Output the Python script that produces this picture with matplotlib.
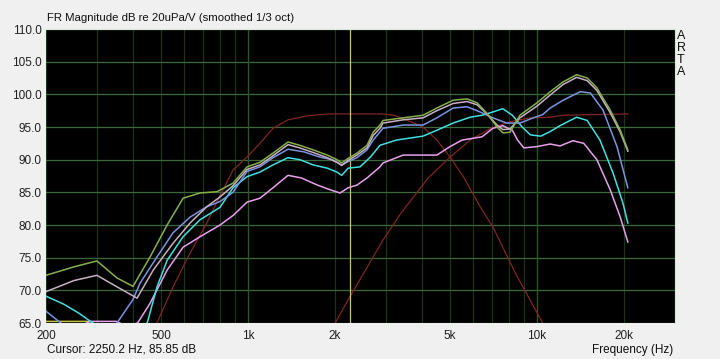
import numpy as np
import matplotlib.pyplot as plt
from matplotlib.ticker import FixedLocator, NullFormatter

plt.rcParams['font.family'] = ['Liberation Sans', 'DejaVu Sans']

f_green = [200, 250, 300, 352, 400, 458, 525, 596, 682, 781, 887, 992, 1100, 1220, 1375, 1510, 1680, 1880,
           2030, 2110, 2220, 2380, 2580, 2710, 2860, 2930, 3440, 4030, 4500, 5120, 5720, 6200, 6700, 7270,
           7610, 8060, 8720, 9990, 11100, 12300, 13700, 14900, 16100, 17900, 19400, 20600]
db_green = [72.3, 73.6, 74.5, 71.9, 70.6, 75.1, 80.0, 84.1, 84.9, 85.1, 86.4, 88.9, 89.6, 91.0, 92.7, 92.2, 91.5, 90.7,
            90.0, 89.5, 90.2, 91.0, 92.2, 94.2, 95.3, 96.0, 96.4, 96.8, 97.9, 99.1, 99.3, 98.7, 97.1, 95.0,
            94.1, 94.2, 96.8, 98.7, 100.4, 101.9, 103.0, 102.5, 101.0, 97.6, 94.5, 91.5]

f_grey = [200, 250, 300, 350, 413, 470, 550, 630, 720, 800, 887, 992, 1100, 1220, 1375, 1510, 1680, 1880,
          2030, 2110, 2220, 2380, 2580, 2710, 2860, 2930, 3440, 4030, 4500, 5120, 5720, 6200, 6700, 7270,
          7610, 8060, 8720, 9990, 11100, 12300, 13700, 14900, 16100, 17900, 19400, 20600]
db_grey = [69.8, 71.5, 72.3, 70.6, 68.8, 73.1, 77.2, 80.3, 82.8, 84.3, 86.0, 88.5, 89.2, 90.6, 92.3, 91.8, 91.1, 90.3,
           89.6, 89.1, 89.9, 90.7, 91.8, 93.7, 94.8, 95.6, 96.1, 96.4, 97.5, 98.6, 98.9, 98.4, 97.0, 95.3,
           94.6, 94.7, 96.4, 98.2, 99.9, 101.5, 102.6, 102.1, 100.6, 97.2, 94.2, 91.3]

f_blue = [200, 225, 260, 320, 352, 400, 423, 484, 550, 630, 720, 800, 887, 992, 1100, 1220, 1375, 1560, 1770,
          1950, 2110, 2220, 2380, 2580, 2710, 2930, 3440, 4030, 4500, 5120, 5720, 6350, 7030, 7860, 8720,
          9700, 10450, 11100, 12300, 14100, 15300, 16900, 18900, 20600]
db_blue = [66.8, 65.0, 63.5, 63.5, 65.0, 68.6, 71.1, 75.1, 78.8, 81.2, 82.8, 83.6, 85.0, 88.2, 88.9, 90.3, 91.6, 91.2, 90.4,
           90.0, 89.2, 89.7, 90.3, 91.5, 93.0, 94.8, 95.3, 95.3, 96.4, 97.9, 98.1, 97.3, 96.4, 95.6, 95.6,
           96.4, 96.9, 97.9, 99.1, 100.4, 100.2, 97.6, 92.0, 85.7]

f_cyan = [200, 230, 260, 290, 330, 400, 448, 484, 525, 596, 682, 800, 887, 992, 1100, 1220, 1375, 1510, 1680,
          1880, 2030, 2110, 2220, 2440, 2650, 2860, 3260, 4030, 4500, 5120, 5870, 6450, 7030, 7610, 8210,
          8880, 9470, 10300, 11100, 12000, 13700, 14900, 16500, 18300, 19800, 20600]
db_cyan = [69.1, 67.9, 66.5, 65.0, 63.8, 63.8, 65.0, 70.5, 74.6, 78.2, 80.8, 82.7, 85.7, 87.4, 88.1, 89.2, 90.3, 90.0, 89.2,
           88.7, 88.1, 87.6, 88.7, 88.9, 90.4, 92.2, 93.0, 93.6, 94.5, 95.6, 96.5, 96.8, 97.3, 97.8, 96.8,
           95.0, 93.8, 93.6, 94.3, 95.2, 96.5, 96.0, 93.0, 88.0, 83.4, 80.3]

f_pink = [260, 285, 350, 380, 415, 458, 525, 596, 682, 800, 890, 992, 1100, 1220, 1375, 1530, 1740, 1920,
          2080, 2220, 2380, 2580, 2860, 2930, 3440, 3950, 4500, 5000, 5500, 6450, 7030, 7610, 8210, 8560,
          9000, 9990, 11100, 12000, 13300, 14500, 16100, 17900, 19400, 20600]
db_pink = [64.5, 65.25, 65.25, 64.5, 65.0, 68.0, 73.1, 76.6, 78.2, 80.0, 81.5, 83.5, 84.1, 85.7, 87.6, 87.2, 86.1, 85.4,
           84.9, 85.7, 86.1, 87.2, 88.9, 89.5, 90.7, 90.7, 90.7, 92.0, 93.0, 93.5, 94.8, 95.2, 94.5, 93.0,
           91.8, 92.0, 92.4, 92.1, 92.9, 92.5, 90.0, 85.4, 81.2, 77.4]

f_yellow = [200, 285, 300]
db_yellow = [65.25, 65.25, 64.5]

# target filter curves
f_lp = [484, 550, 630, 720, 800, 887, 992, 1100, 1220, 1375, 1600, 1880, 2900, 3200, 3440, 4030, 4500,
        5000, 5560, 6350, 7030, 8400, 10300, 10600]
db_lp = [65.0, 70.5, 75.7, 80.3, 84.5, 88.4, 90.4, 92.5, 94.8, 96.1, 96.7, 97.0, 97.0, 96.8, 96.3, 95.0, 93.0,
         90.4, 87.4, 82.8, 79.7, 72.7, 65.5, 64.5]
f_hp = [1980, 2030, 2250, 2930, 3380, 4200, 5000, 5870, 6900, 8060, 9470, 11100, 12300, 20600]
db_hp = [64.5, 65.5, 69.0, 77.7, 81.8, 87.2, 90.4, 93.0, 94.8, 95.8, 96.4, 96.5, 96.8, 97.0]

cursor_f = 2250.2

xmajor = [200, 500, 1000, 2000, 5000, 10000, 20000]
xlabels = ['200', '500', '1k', '2k', '5k', '10k', '20k']
xminor = [300, 400, 600, 700, 800, 900, 3000, 4000, 6000, 7000, 8000, 9000, 30000]
xbright = [1000, 10000]
ymajor = np.arange(65, 110.1, 5)

fig = plt.figure(figsize=(7.2, 3.59), dpi=100, facecolor='#f0f0f0')
ax = fig.add_axes([46/720, 1-323/359, (675-46)/720, (323-29)/359])
ax.set_facecolor('black')
ax.set_xscale('log')
ax.set_xlim(200, 30000)
ax.set_ylim(65, 110)

ax.xaxis.set_major_locator(FixedLocator(xmajor))
ax.set_xticklabels(xlabels)
ax.xaxis.set_minor_locator(FixedLocator(xminor))
ax.xaxis.set_minor_formatter(NullFormatter())
ax.set_yticks(ymajor)
ax.set_yticklabels(['%.1f' % v for v in ymajor])

ax.grid(which='major', axis='y', color='#3a6a3a', linewidth=0.9)
ax.grid(which='both', axis='x', color='#1d321d', linewidth=0.9)
for f in xbright:
    ax.axvline(f, color='#2c542c', linewidth=0.9, zorder=0.6)
ax.tick_params(which='both', length=0, labelsize=8.5, colors='#202020')
ax.tick_params(axis='y', pad=3)
ax.tick_params(axis='x', pad=5)
ax.set_axisbelow(True)

for s in ['left', 'bottom']:
    ax.spines[s].set_visible(False)
for s in ['top', 'right']:
    ax.spines[s].set_color('#d8e8d8')
    ax.spines[s].set_linewidth(0.8)

ax.plot(f_lp, db_lp, color='#7e2622', linewidth=0.9)
ax.plot(f_hp, db_hp, color='#7e2622', linewidth=0.9)
ax.axvline(cursor_f, color='#c8c27a', linewidth=0.9)

ax.plot(f_yellow, db_yellow, color='#c8c040', linewidth=1.1)
ax.plot(f_pink, db_pink, color='#e8a0ec', linewidth=1.1)
ax.plot(f_cyan, db_cyan, color='#40e0e0', linewidth=1.1)
ax.plot(f_blue, db_blue, color='#7a94e0', linewidth=1.1)
ax.plot(f_grey, db_grey, color='#c8b0c4', linewidth=1.1)
ax.plot(f_green, db_green, color='#86b04c', linewidth=1.1)

fig.text(47/720, 1-18/359, 'FR Magnitude dB re 20uPa/V (smoothed 1/3 oct)', fontsize=8.2,
         color='#101010', va='center', ha='left')
fig.text(47/720, 1-350/359, 'Cursor: 2250.2 Hz, 85.85 dB', fontsize=8.5, color='#101010',
         va='center', ha='left')
fig.text(673/720, 1-350/359, 'Frequency (Hz)', fontsize=8.5, color='#101010', va='center', ha='right')
fig.text(681/720, 1-54/359, 'A\nR\nT\nA', fontsize=9, color='#101010', va='center', ha='center',
         linespacing=1.0)

fig.savefig('out.png', dpi=100, facecolor=fig.get_facecolor())
